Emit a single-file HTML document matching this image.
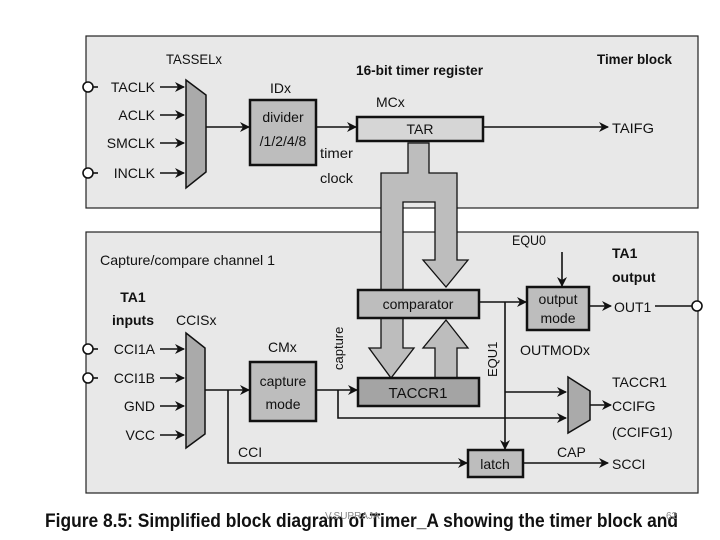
<!DOCTYPE html>
<html><head><style>body{margin:0;background:#fff}svg{display:block}text{font-family:"Liberation Sans",sans-serif;fill:#111}</style></head><body>
<svg width="720" height="540" viewBox="0 0 720 540" xmlns="http://www.w3.org/2000/svg">
<defs><marker id="a" markerWidth="10" markerHeight="10" refX="9" refY="5" orient="auto" markerUnits="userSpaceOnUse"><path d="M0,0 L10,5 L0,10 L3,5 z" fill="#111"/></marker></defs>
<rect x="86" y="36" width="612" height="172" fill="#e8e8e8" stroke="#222" stroke-width="1.2"/>
<rect x="86" y="232" width="612" height="261" fill="#e8e8e8" stroke="#222" stroke-width="1.2"/>
<g font-size="14">
<text x="597" y="64" font-weight="bold" textLength="75" lengthAdjust="spacingAndGlyphs">Timer block</text>
<text x="356" y="75" font-weight="bold" textLength="127" lengthAdjust="spacingAndGlyphs">16-bit timer register</text>
<text x="166" y="64" textLength="56" lengthAdjust="spacingAndGlyphs">TASSELx</text>
<text x="270" y="93">IDx</text>
<text x="376" y="107">MCx</text>
<text x="320" y="158" textLength="33" lengthAdjust="spacingAndGlyphs">timer</text>
<text x="320" y="183" textLength="33" lengthAdjust="spacingAndGlyphs">clock</text>
<text x="612" y="133" textLength="42" lengthAdjust="spacingAndGlyphs">TAIFG</text>
<g text-anchor="end"><text x="155" y="92">TACLK</text><text x="155" y="120">ACLK</text><text x="155" y="148">SMCLK</text><text x="155" y="178">INCLK</text></g>
</g>
<g stroke="#111" stroke-width="1.6" fill="none">
<circle cx="88" cy="87" r="5" fill="#fff"/><circle cx="88" cy="173" r="5" fill="#fff"/>
<line x1="93" y1="87" x2="98" y2="87"/><line x1="93" y1="173" x2="98" y2="173"/>
<line x1="160" y1="87" x2="184" y2="87" marker-end="url(#a)"/>
<line x1="160" y1="115" x2="184" y2="115" marker-end="url(#a)"/>
<line x1="160" y1="143" x2="184" y2="143" marker-end="url(#a)"/>
<line x1="160" y1="173" x2="184" y2="173" marker-end="url(#a)"/>
<line x1="206" y1="127" x2="249" y2="127" marker-end="url(#a)"/>
<line x1="316" y1="127" x2="356" y2="127" marker-end="url(#a)"/>
<line x1="483" y1="127" x2="608" y2="127" marker-end="url(#a)"/>
</g>
<polygon points="186,80 206,95 206,172 186,188" fill="#aaa" stroke="#111" stroke-width="1.5"/>
<rect x="250" y="100" width="66" height="65" fill="#bdbdbd" stroke="#111" stroke-width="2.5"/>
<text x="283" y="122" text-anchor="middle" font-size="14">divider</text>
<text x="283" y="146" text-anchor="middle" font-size="14">/1/2/4/8</text>
<path d="M408,143 L429,143 L429,173 L457,173 L457,260 L468,260 L446,287 L423,260 L435,260 L435,202 L403,202 L403,348 L414,348 L391,378 L369,348 L381,348 L381,173 L408,173 Z" fill="#bdbdbd" stroke="#111" stroke-width="1.3"/>
<path d="M435,378 L435,348 L423,348 L446,320 L468,348 L457,348 L457,378 Z" fill="#bdbdbd" stroke="#111" stroke-width="1.3"/>
<rect x="357" y="117" width="126" height="24" fill="#d6d6d6" stroke="#111" stroke-width="2.5"/>
<text x="420" y="134" text-anchor="middle" font-size="14">TAR</text>
<rect x="358" y="290" width="121" height="28" fill="#bdbdbd" stroke="#111" stroke-width="2.5"/>
<text x="418" y="309" text-anchor="middle" font-size="14">comparator</text>
<rect x="358" y="378" width="121" height="28" fill="#a4a4a4" stroke="#111" stroke-width="2.5"/>
<text x="418" y="398" text-anchor="middle" font-size="15">TACCR1</text>
<g font-size="14">
<text x="100" y="265" textLength="175" lengthAdjust="spacingAndGlyphs">Capture/compare channel 1</text>
<text x="133" y="302" text-anchor="middle" font-weight="bold">TA1</text>
<text x="133" y="325" text-anchor="middle" font-weight="bold">inputs</text>
<text x="176" y="325">CCISx</text>
<g text-anchor="end"><text x="155" y="354">CCI1A</text><text x="155" y="383">CCI1B</text><text x="155" y="411">GND</text><text x="155" y="440">VCC</text></g>
<text x="268" y="352">CMx</text>
<text x="238" y="457">CCI</text>
<text x="512" y="245" textLength="34" lengthAdjust="spacingAndGlyphs">EQU0</text>
<text x="612" y="258" font-weight="bold">TA1</text>
<text x="612" y="282" font-weight="bold">output</text>
<text x="614" y="312">OUT1</text>
<text x="520" y="355" textLength="70" lengthAdjust="spacingAndGlyphs">OUTMODx</text>
<text x="612" y="387">TACCR1</text>
<text x="612" y="411">CCIFG</text>
<text x="612" y="437">(CCIFG1)</text>
<text x="557" y="457">CAP</text>
<text x="612" y="469">SCCI</text>
<text transform="translate(343,370) rotate(-90)" font-size="13">capture</text>
<text transform="translate(497,377) rotate(-90)" font-size="13">EQU1</text>
</g>
<g stroke="#111" stroke-width="1.6" fill="none">
<circle cx="88" cy="349" r="5" fill="#fff"/><circle cx="88" cy="378" r="5" fill="#fff"/>
<line x1="93" y1="349" x2="98" y2="349"/><line x1="93" y1="378" x2="98" y2="378"/>
<line x1="160" y1="349" x2="184" y2="349" marker-end="url(#a)"/>
<line x1="160" y1="378" x2="184" y2="378" marker-end="url(#a)"/>
<line x1="160" y1="406" x2="184" y2="406" marker-end="url(#a)"/>
<line x1="160" y1="435" x2="184" y2="435" marker-end="url(#a)"/>
<line x1="205" y1="390" x2="249" y2="390" marker-end="url(#a)"/>
<polyline points="228,390 228,463 467,463" marker-end="url(#a)"/>
<line x1="316" y1="390" x2="357" y2="390" marker-end="url(#a)"/>
<polyline points="338,390 338,418 566,418" marker-end="url(#a)"/>
<line x1="479" y1="302" x2="526" y2="302" marker-end="url(#a)"/>
<polyline points="505,302 505,449" marker-end="url(#a)"/>
<line x1="505" y1="392" x2="566" y2="392" marker-end="url(#a)"/>
<line x1="562" y1="252" x2="562" y2="286" marker-end="url(#a)"/>
<line x1="589" y1="306" x2="611" y2="306" marker-end="url(#a)"/>
<line x1="655" y1="306" x2="692" y2="306"/>
<circle cx="697" cy="306" r="5" fill="#fff"/>
<line x1="590" y1="405" x2="611" y2="405" marker-end="url(#a)"/>
<line x1="523" y1="463" x2="608" y2="463" marker-end="url(#a)"/>
</g>
<polygon points="186,333 205,348 205,434 186,448" fill="#aaa" stroke="#111" stroke-width="1.5"/>
<polygon points="568,377 590,391 590,420 568,433" fill="#aaa" stroke="#111" stroke-width="1.5"/>
<rect x="250" y="362" width="66" height="59" fill="#bdbdbd" stroke="#111" stroke-width="2.5"/>
<text x="283" y="386" text-anchor="middle" font-size="14">capture</text>
<text x="283" y="409" text-anchor="middle" font-size="14">mode</text>
<rect x="527" y="287" width="62" height="43" fill="#bdbdbd" stroke="#111" stroke-width="2.5"/>
<text x="558" y="304" text-anchor="middle" font-size="14">output</text>
<text x="558" y="323" text-anchor="middle" font-size="14">mode</text>
<rect x="468" y="450" width="55" height="27" fill="#bdbdbd" stroke="#111" stroke-width="2.5"/>
<text x="495" y="469" text-anchor="middle" font-size="14">latch</text>
<text x="45" y="527" font-size="19" font-weight="bold" textLength="633" lengthAdjust="spacingAndGlyphs">Figure 8.5:  Simplified block diagram of Timer_A showing the timer block and</text>
<text x="325" y="519" font-size="10" style="fill:#888">V.SUPRAJA</text>
<text x="666" y="519" font-size="10" style="fill:#888">62</text>
</svg>
</body></html>
